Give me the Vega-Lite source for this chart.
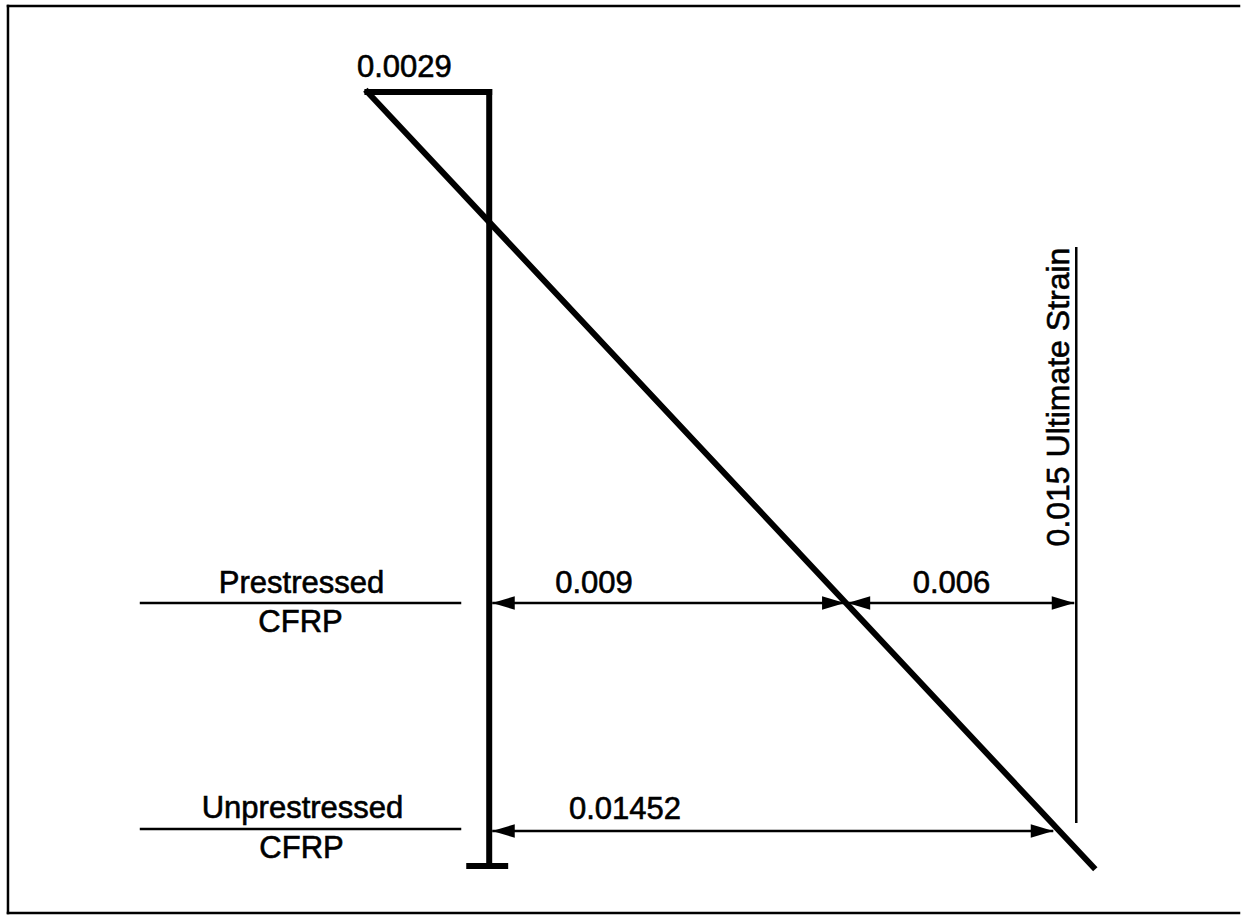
{
  "$schema": "https://vega.github.io/schema/vega-lite/v6.json",
  "width": 1241,
  "height": 915,
  "autosize": {"type": "fit", "contains": "padding"},
  "padding": 0,
  "background": "white",
  "config": {"view": {"stroke": null}, "font": "Liberation Sans"},
  "datasets": {
    "border": [
      {"x": 8, "y": 6, "x2": 1241, "y2": 6},
      {"x": 8, "y": 6, "x2": 8, "y2": 913},
      {"x": 8, "y": 913, "x2": 1241, "y2": 913}
    ],
    "thick": [
      {"part": "top", "x": 368, "y": 92, "x2": 490, "y2": 92},
      {"part": "section", "x": 490, "y": 92, "x2": 490, "y2": 866},
      {"part": "foot", "x": 470, "y": 866, "x2": 506, "y2": 866},
      {"part": "strain profile", "x": 368, "y": 92, "x2": 1095, "y2": 867}
    ],
    "thin": [
      {"part": "prestressed level", "x": 140, "y": 603, "x2": 462, "y2": 603},
      {"part": "unprestressed level", "x": 140, "y": 829, "x2": 462, "y2": 829},
      {"part": "ultimate strain", "x": 1078, "y": 247, "x2": 1078, "y2": 823},
      {"part": "dim 0.009", "x": 493, "y": 603, "x2": 845, "y2": 603},
      {"part": "dim 0.006", "x": 850, "y": 603, "x2": 1076, "y2": 603},
      {"part": "dim 0.01452", "x": 493, "y": 831, "x2": 1055, "y2": 831}
    ],
    "heads": [
      {"x": 493, "y": 603, "dir": "left"},
      {"x": 846, "y": 603, "dir": "right"},
      {"x": 849, "y": 603, "dir": "left"},
      {"x": 1076, "y": 603, "dir": "right"},
      {"x": 493, "y": 831, "dir": "left"},
      {"x": 1055, "y": 831, "dir": "right"}
    ],
    "labels": [
      {"label": "0.0029", "x": 405, "y": 77},
      {"label": "Prestressed", "x": 302, "y": 593},
      {"label": "CFRP", "x": 301, "y": 632},
      {"label": "Unprestressed", "x": 303, "y": 818},
      {"label": "CFRP", "x": 302, "y": 858},
      {"label": "0.009", "x": 595, "y": 593},
      {"label": "0.006", "x": 953, "y": 593},
      {"label": "0.01452", "x": 626, "y": 819}
    ],
    "vlabels": [
      {"label": "0.015 Ultimate Strain", "x": 1071, "y": 397}
    ]
  },
  "layer": [
    {
      "data": {"name": "border"},
      "mark": {"type": "rule", "color": "black", "strokeWidth": 2.5, "strokeCap": "square"},
      "encoding": {
        "x": {"field": "x", "type": "quantitative", "scale": {"domain": [0, 1241], "nice": false, "zero": false}, "axis": null},
        "y": {"field": "y", "type": "quantitative", "scale": {"domain": [0, 915], "nice": false, "zero": false, "reverse": true}, "axis": null},
        "x2": {"field": "x2"},
        "y2": {"field": "y2"}
      }
    },
    {
      "data": {"name": "thin"},
      "mark": {"type": "rule", "color": "black", "strokeWidth": 2.5},
      "encoding": {
        "x": {"field": "x", "type": "quantitative", "scale": {"domain": [0, 1241], "nice": false, "zero": false}, "axis": null},
        "y": {"field": "y", "type": "quantitative", "scale": {"domain": [0, 915], "nice": false, "zero": false, "reverse": true}, "axis": null},
        "x2": {"field": "x2"},
        "y2": {"field": "y2"}
      }
    },
    {
      "data": {"name": "thick"},
      "mark": {"type": "rule", "color": "black", "strokeWidth": 6, "strokeCap": "square"},
      "encoding": {
        "x": {"field": "x", "type": "quantitative", "scale": {"domain": [0, 1241], "nice": false, "zero": false}, "axis": null},
        "y": {"field": "y", "type": "quantitative", "scale": {"domain": [0, 915], "nice": false, "zero": false, "reverse": true}, "axis": null},
        "x2": {"field": "x2"},
        "y2": {"field": "y2"}
      }
    },
    {
      "data": {"name": "heads"},
      "mark": {"type": "point", "filled": true, "color": "black", "opacity": 1, "size": 420, "strokeWidth": 0},
      "encoding": {
        "x": {"field": "x", "type": "quantitative", "scale": {"domain": [0, 1241], "nice": false, "zero": false}, "axis": null},
        "y": {"field": "y", "type": "quantitative", "scale": {"domain": [0, 915], "nice": false, "zero": false, "reverse": true}, "axis": null},
        "shape": {"field": "dir", "type": "nominal", "scale": {"domain": ["left", "right"], "range": ["M0,0L2.2,-0.65L2.2,0.65Z", "M0,0L-2.2,-0.65L-2.2,0.65Z"]}, "legend": null}
      }
    },
    {
      "data": {"name": "labels"},
      "mark": {"type": "text", "align": "center", "baseline": "alphabetic", "fontSize": 31, "color": "black", "stroke": "black", "strokeWidth": 0.6},
      "encoding": {
        "x": {"field": "x", "type": "quantitative", "scale": {"domain": [0, 1241], "nice": false, "zero": false}, "axis": null},
        "y": {"field": "y", "type": "quantitative", "scale": {"domain": [0, 915], "nice": false, "zero": false, "reverse": true}, "axis": null},
        "text": {"field": "label", "type": "nominal"}
      }
    },
    {
      "data": {"name": "vlabels"},
      "mark": {"type": "text", "align": "center", "baseline": "alphabetic", "fontSize": 32, "angle": 270, "color": "black", "stroke": "black", "strokeWidth": 0.6},
      "encoding": {
        "x": {"field": "x", "type": "quantitative", "scale": {"domain": [0, 1241], "nice": false, "zero": false}, "axis": null},
        "y": {"field": "y", "type": "quantitative", "scale": {"domain": [0, 915], "nice": false, "zero": false, "reverse": true}, "axis": null},
        "text": {"field": "label", "type": "nominal"}
      }
    }
  ]
}
